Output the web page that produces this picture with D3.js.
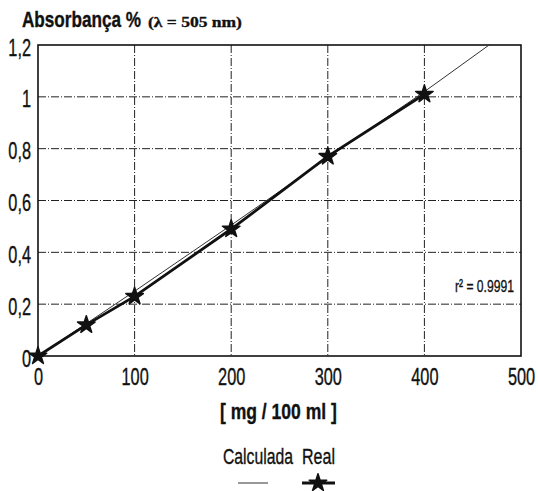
<!DOCTYPE html>
<html>
<head>
<meta charset="utf-8">
<script src="https://cdn.jsdelivr.net/npm/d3@7"></script>
<style>
  body { margin: 0; background: #fff; }
  svg { display: block; }
  text { font-family: "Liberation Sans", Arial, sans-serif; fill: #111; stroke: #111; stroke-width: 0.35px; }
</style>
</head>
<body>
<div id="chart"></div>
<script>
// data
const concentration = [0, 50, 100, 200, 300, 400];
const absorbanceReal = [0, 0.12, 0.23, 0.49, 0.77, 1.01];
const calcX = [0, 50, 100, 200, 300, 400, 467];
const calcY = [0, 0.125, 0.25, 0.505, 0.765, 1.02, 1.2];
const xTicks = [0, 100, 200, 300, 400, 500];
const yTicks = [0, 0.2, 0.4, 0.6, 0.8, 1, 1.2];
const yTickLabels = ['0', '0,2', '0,4', '0,6', '0,8', '1', '1,2'];

const width = 538, height = 491;
const MARGIN = { top: 45, right: 17, bottom: 135, left: 38 };
const innerW = width - MARGIN.left - MARGIN.right;
const innerH = height - MARGIN.top - MARGIN.bottom;

// squeeze text horizontally to mimic the condensed face of the original
function squeeze(sel, f) {
  sel.each(function () {
    const t = d3.select(this);
    const tx = +t.attr('x') || 0, ty = +t.attr('y') || 0;
    t.attr('x', 0).attr('y', 0)
      .attr('transform', `translate(${tx},${ty}) scale(${f},1)`);
  });
}
function fit(sel, w) {
  const f = w / sel.node().getComputedTextLength();
  squeeze(sel, f);
}

const svg = d3.select('#chart').append('svg')
  .attr('width', width).attr('height', height);

const g = svg.append('g').attr('transform', `translate(${MARGIN.left},${MARGIN.top})`);

const x = d3.scaleLinear().domain([0, 500]).range([0, innerW]);
const y = d3.scaleLinear().domain([0, 1.2]).range([innerH, 0]);

// grid
g.append('g')
  .selectAll('line')
  .data(xTicks.slice(1, -1))
  .join('line')
  .attr('x1', d => x(d)).attr('x2', d => x(d))
  .attr('y1', 0).attr('y2', innerH)
  .attr('stroke', '#222').attr('stroke-width', 1)
  .attr('stroke-dasharray', '8,2,1,2');

g.append('g')
  .selectAll('line')
  .data(yTicks.slice(1, -1))
  .join('line')
  .attr('x1', 0).attr('x2', innerW)
  .attr('y1', d => y(d)).attr('y2', d => y(d))
  .attr('stroke', '#222').attr('stroke-width', 1)
  .attr('stroke-dasharray', '8,2,1,2');

// frame
g.append('rect')
  .attr('width', innerW).attr('height', innerH)
  .attr('fill', 'none').attr('stroke', '#111').attr('stroke-width', 1.6);

// axes labels
const xAxis = g.append('g')
  .attr('transform', `translate(0,${innerH})`)
  .call(d3.axisBottom(x).tickValues(xTicks).tickSize(0).tickPadding(12));
const yAxis = g.append('g')
  .call(d3.axisLeft(y).tickValues(yTicks).tickSize(0).tickPadding(7)
    .tickFormat((d, i) => yTickLabels[i]));

[xAxis, yAxis].forEach(a => {
  a.select('.domain').remove();
  a.selectAll('text').style('font-size', '24px').style('fill', '#111')
    .style('font-family', '"Liberation Sans", Arial, sans-serif');
});
yAxis.selectAll('text').attr('dy', '0.42em');
squeeze(xAxis.selectAll('text'), 0.68);
squeeze(yAxis.selectAll('text'), 0.68);

// lines
const line = d3.line().x(d => x(d[0])).y(d => y(d[1]));

g.append('path')
  .datum(calcX.map((v, i) => [v, calcY[i]]))
  .attr('d', line)
  .attr('fill', 'none').attr('stroke', '#333').attr('stroke-width', 1);

g.append('path')
  .datum(concentration.map((v, i) => [v, absorbanceReal[i]]))
  .attr('d', line)
  .attr('fill', 'none').attr('stroke', '#111').attr('stroke-width', 2.8);

const star = d3.symbol().type(d3.symbolStar).size(95);
g.append('g')
  .selectAll('path')
  .data(concentration.map((v, i) => [v, absorbanceReal[i]]))
  .join('path')
  .attr('transform', d => `translate(${x(d[0])},${y(d[1])})`)
  .attr('d', star)
  .attr('fill', '#111').attr('stroke', '#111').attr('stroke-width', 1.5)
  .attr('stroke-linejoin', 'round');

// r² note
svg.append('text')
  .attr('x', 455).attr('y', 292)
  .style('font-size', '17px')
  .text('r² = 0.9991')
  .call(fit, 59);

// title
svg.append('text').attr('x', 22).attr('y', 27)
  .style('font-size', '22px').style('font-weight', 'bold')
  .text('Absorbança %')
  .call(fit, 119);
svg.append('text').attr('x', 148).attr('y', 27)
  .style('font-size', '15px').style('font-weight', 'bold')
  .style('font-family', '"Liberation Serif", "Times New Roman", serif')
  .text('(λ = 505 nm)')
  .call(fit, 94);

// x axis title
svg.append('text')
  .attr('x', 220).attr('y', 419)
  .style('font-size', '22px').style('font-weight', 'bold')
  .text('[ mg / 100 ml ]')
  .call(fit, 117);

// legend
svg.append('text')
  .attr('x', 223).attr('y', 464)
  .style('font-size', '22px')
  .text('Calculada')
  .call(fit, 70);
svg.append('text')
  .attr('x', 302).attr('y', 464)
  .style('font-size', '22px')
  .text('Real')
  .call(fit, 33);

svg.append('line')
  .attr('x1', 238).attr('x2', 268).attr('y1', 483).attr('y2', 483)
  .attr('stroke', '#333').attr('stroke-width', 1);
svg.append('line')
  .attr('x1', 302).attr('x2', 335).attr('y1', 483).attr('y2', 483)
  .attr('stroke', '#111').attr('stroke-width', 2.8);
svg.append('path')
  .attr('transform', 'translate(318,483)')
  .attr('d', star)
  .attr('fill', '#111').attr('stroke', '#111').attr('stroke-width', 1.5)
  .attr('stroke-linejoin', 'round');
</script>
</body>
</html>
